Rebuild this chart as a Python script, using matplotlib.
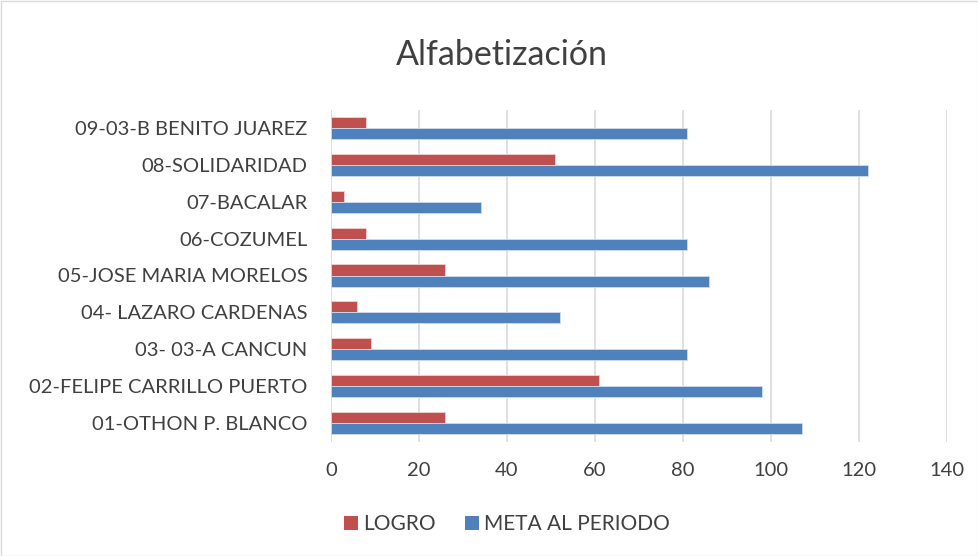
import matplotlib
matplotlib.use("Agg")
import matplotlib.pyplot as plt
import numpy as np
from matplotlib.patches import Patch

plt.rcParams['font.family'] = ['Lato', 'DejaVu Sans']

categories = ["01-OTHON P. BLANCO", "02-FELIPE CARRILLO PUERTO", "03- 03-A CANCUN",
              "04- LAZARO CARDENAS", "05-JOSE MARIA MORELOS", "06-COZUMEL",
              "07-BACALAR", "08-SOLIDARIDAD", "09-03-B BENITO JUAREZ"]
logro = [26, 61, 9, 6, 26, 8, 3, 51, 8]
meta = [107, 98, 81, 52, 86, 81, 34, 122, 81]
xticks = [0, 20, 40, 60, 80, 100, 120, 140]

red = "#C0504D"
blue = "#4F81BD"
txt = "#404040"

fig = plt.figure(figsize=(9.79, 5.56), dpi=100)
ax = fig.add_axes([331/979, 1-441.5/556, (947-331)/979, (441.5-109.5)/556])

y = np.arange(len(categories))
h = 0.3
ax.barh(y + h/2, logro, height=h, color=red, edgecolor="#f0d0d0", linewidth=0.6, zorder=3)
ax.barh(y - h/2, meta, height=h, color=blue, edgecolor="#d0dcef", linewidth=0.6, zorder=3)

ax.set_xlim(0, 140)
ax.set_ylim(-0.5, len(categories) - 0.5)
ax.set_xticks(xticks)
ax.set_xticklabels([str(v) for v in xticks], fontsize=14.5, color=txt)
ax.set_yticks(y)
ax.set_yticklabels(categories, fontsize=14.5, color=txt)
ax.tick_params(axis='y', length=0, pad=17)
ax.tick_params(axis='x', length=0, pad=15)
ax.grid(axis='x', color="#d9d9d9", linewidth=1.2, zorder=0)
for s in ax.spines.values():
    s.set_visible(False)

fig.text(502/979, 1-55/556, "Alfabetización", ha='center', va='center', fontsize=24.5, color=txt)

handles = [Patch(facecolor=red, label="LOGRO"), Patch(facecolor=blue, label="META AL PERIODO")]
fig.legend(handles=handles, loc='center', bbox_to_anchor=(507/979, 1-524/556), ncol=2,
           frameon=False, fontsize=15, handlelength=0.67, handleheight=0.67,
           handletextpad=0.25, columnspacing=1.4, labelcolor=txt)

fig.patches.append(plt.Rectangle((0.5/979, 0.5/556), 1-1/979, 1-1/556, transform=fig.transFigure,
                                 fill=False, edgecolor="#d9d9d9", linewidth=1))

fig.savefig("out.png", dpi=100, facecolor="white")
